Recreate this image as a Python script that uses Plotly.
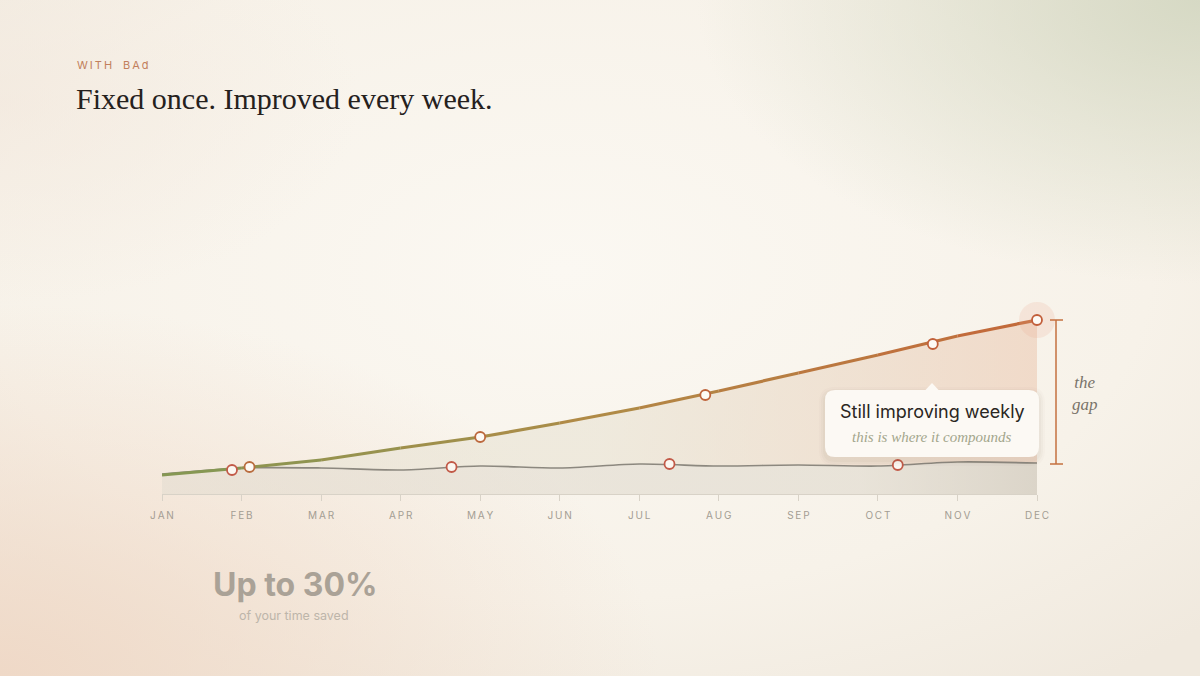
import base64
import plotly.graph_objects as go

# ---- data ----
months = ['JAN', 'FEB', 'MAR', 'APR', 'MAY', 'JUN', 'JUL', 'AUG', 'SEP', 'OCT', 'NOV', 'DEC']
month_idx = list(range(12))

# improving every week (upper, green -> orange)
improved = [9.5, 13, 17, 23, 28.5, 35.5, 43, 51.5, 60.5, 69.5, 79, 87]
improved_marker_x = [1.1, 4.0, 6.83, 9.69, 11]
improved_marker_y = [13.5, 28.5, 49.5, 75, 87]

# fixed once (lower, grey)
fixed = [10, 13, 13, 12, 14, 13, 15, 14, 14.5, 14, 16, 15.5]
fixed_marker_x = [0.88, 3.64, 6.38, 9.25]
fixed_marker_y = [12, 13.5, 15, 14.5]

# ---- geometry helpers: pixel -> paper (plot area is x 162..1037, y 94..494) ----
L, R, T, B = 162, 1037, 94, 494


def X(px):
    return (px - L) / (R - L)


def Y(py):
    return (B - py) / (B - T)


def rrect(x0, y0, x1, y1, r):
    """Rounded rectangle path (pixel inputs) in paper coords."""
    return (f"M {X(x0 + r)},{Y(y0)} L {X(x1 - r)},{Y(y0)} Q {X(x1)},{Y(y0)} {X(x1)},{Y(y0 + r)} "
            f"L {X(x1)},{Y(y1 - r)} Q {X(x1)},{Y(y1)} {X(x1 - r)},{Y(y1)} "
            f"L {X(x0 + r)},{Y(y1)} Q {X(x0)},{Y(y1)} {X(x0)},{Y(y1 - r)} "
            f"L {X(x0)},{Y(y0 + r)} Q {X(x0)},{Y(y0)} {X(x0 + r)},{Y(y0)} Z")


def mix(c1, c2, t):
    return tuple(round(a + (b - a) * t) for a, b in zip(c1, c2))


GREEN, MID, ORANGE = (130, 152, 84), (176, 138, 70), (196, 104, 58)


def line_colour(x):
    t = x / 11
    if t < 0.5:
        c = mix(GREEN, MID, t / 0.5)
    else:
        c = mix(MID, ORANGE, (t - 0.5) / 0.5)
    return f'rgb{c}'


def ring_colour(x):
    # marker rings on the improving line sit a bit warmer than the line itself
    return f'rgb{mix((184, 110, 62), (194, 94, 58), x / 11)}'


# ---- soft vignette background ----
svg = """<svg xmlns='http://www.w3.org/2000/svg' width='1200' height='676' viewBox='0 0 1200 676'>
<defs>
<radialGradient id='c' cx='0.47' cy='0.4' r='0.75'>
<stop offset='0' stop-color='#fbf8f2'/><stop offset='0.65' stop-color='#f7f2e9'/><stop offset='1' stop-color='#f0e9de'/></radialGradient>
<radialGradient id='g' cx='1' cy='0' r='0.42'>
<stop offset='0' stop-color='#d3d7c1' stop-opacity='0.9'/><stop offset='1' stop-color='#d3d7c1' stop-opacity='0'/></radialGradient>
<radialGradient id='p' cx='0' cy='1' r='0.55'>
<stop offset='0' stop-color='#efd6c3' stop-opacity='0.85'/><stop offset='1' stop-color='#efd6c3' stop-opacity='0'/></radialGradient>
<radialGradient id='w' cx='0' cy='0.15' r='0.3'>
<stop offset='0' stop-color='#f2e7dc' stop-opacity='0.6'/><stop offset='1' stop-color='#f2e7dc' stop-opacity='0'/></radialGradient>
</defs>
<rect width='1200' height='676' fill='url(#c)'/>
<rect width='1200' height='676' fill='url(#w)'/>
<rect width='1200' height='676' fill='url(#p)'/>
<rect width='1200' height='676' fill='url(#g)'/>
</svg>"""
bg_uri = 'data:image/svg+xml;base64,' + base64.b64encode(svg.encode()).decode()

fig = go.Figure()

# fill under the fixed line
fig.add_trace(go.Scatter(
    x=month_idx, y=fixed, mode='lines', line=dict(width=0, shape='spline', smoothing=0.8),
    fill='tozeroy',
    fillgradient=dict(type='horizontal', start=0, stop=11,
                      colorscale=[[0, 'rgba(226,220,208,0.55)'], [0.8, 'rgba(222,216,204,0.6)'],
                                  [1, 'rgba(210,203,190,0.75)']]),
    hoverinfo='skip', showlegend=False))

# fill between the two lines (the gap)
fig.add_trace(go.Scatter(
    x=month_idx, y=improved, mode='lines', line=dict(width=0),
    fill='tonexty',
    fillgradient=dict(type='horizontal', start=0, stop=11,
                      colorscale=[[0, 'rgba(230,227,212,0.55)'], [0.5, 'rgba(232,226,210,0.6)'],
                                  [1, 'rgba(238,210,190,0.75)']]),
    hoverinfo='skip', showlegend=False))

# fixed line
fig.add_trace(go.Scatter(
    x=month_idx, y=fixed, mode='lines',
    line=dict(color='#8c887f', width=1.7, shape='spline', smoothing=0.8),
    hoverinfo='skip', showlegend=False, cliponaxis=False))

# improving line, drawn month by month so the colour can shift
for i in range(len(months) - 1):
    fig.add_trace(go.Scatter(
        x=month_idx[i:i + 2], y=improved[i:i + 2], mode='lines',
        line=dict(color=line_colour(i + 0.5), width=3.2),
        hoverinfo='skip', showlegend=False, cliponaxis=False))

# glow on the last point
fig.add_trace(go.Scatter(
    x=improved_marker_x[-1:], y=improved_marker_y[-1:], mode='markers',
    marker=dict(size=36, color='rgba(236,172,145,0.2)', line=dict(width=0)),
    hoverinfo='skip', showlegend=False, cliponaxis=False))

fig.add_trace(go.Scatter(
    x=fixed_marker_x, y=fixed_marker_y, mode='markers',
    marker=dict(size=10, color='#fbf7f1', line=dict(color='#c25a48', width=1.8)),
    hoverinfo='skip', showlegend=False, cliponaxis=False))

fig.add_trace(go.Scatter(
    x=improved_marker_x, y=improved_marker_y, mode='markers',
    marker=dict(size=10, color='#fdfaf5',
                line=dict(color=[ring_colour(v) for v in improved_marker_x], width=1.8)),
    hoverinfo='skip', showlegend=False, cliponaxis=False))

shapes = []
# tooltip shadow + card + pointer
for k, a in enumerate([0.025, 0.03, 0.035]):
    d = 6 - k * 2
    shapes.append(dict(type='path', xref='paper', yref='paper', layer='above',
                       path=rrect(825 - d, 390 - d + 3, 1039 + d, 457 + d + 3, 10 + d),
                       fillcolor=f'rgba(110,90,70,{a})', line=dict(width=0)))
shapes.append(dict(type='path', xref='paper', yref='paper', layer='above',
                   path=rrect(825, 390, 1039, 457, 10),
                   fillcolor='#fcf9f4', line=dict(width=0)))
shapes.append(dict(type='path', xref='paper', yref='paper', layer='above',
                   path=f"M {X(925)},{Y(390.5)} L {X(932)},{Y(383)} L {X(939)},{Y(390.5)} Z",
                   fillcolor='#fcf9f4', line=dict(width=0)))
# "the gap" bracket
gap_col = '#c4703f'
shapes.append(dict(type='line', xref='paper', yref='paper', x0=X(1056), x1=X(1056),
                   y0=Y(320), y1=Y(464), line=dict(color=gap_col, width=1.5)))
for yy in (320, 464):
    shapes.append(dict(type='line', xref='paper', yref='paper', x0=X(1050), x1=X(1063),
                       y0=Y(yy), y1=Y(yy), line=dict(color=gap_col, width=1.5)))

annotations = [
    dict(text='\u2009'.join('WITH BAd').replace('\u2009 \u2009', '\u2003'),
         x=X(75), y=Y(65), xanchor='left', yanchor='middle',
         font=dict(family='Inter', size=11, color='#c27f5c')),
    dict(text='Fixed once. Improved every week.', x=X(74), y=Y(98), xanchor='left', yanchor='middle',
         font=dict(family='Liberation Serif', size=30, color='#25211d')),
    dict(text='the<br>gap', x=X(1085), y=Y(393), xanchor='center', yanchor='middle',
         font=dict(family='Liberation Serif', size=17, color='#7a746a', style='italic')),
    dict(text='Still improving weekly', x=X(932), y=Y(411), xanchor='center', yanchor='middle',
         font=dict(family='Inter', size=18, color='#2a2622')),
    dict(text='this is where it compounds', x=X(932), y=Y(437), xanchor='center', yanchor='middle',
         font=dict(family='Liberation Serif', size=15, color='#a3a68c', style='italic')),
    dict(text='<b>Up to 30%</b>', x=X(295), y=Y(584), xanchor='center', yanchor='middle',
         font=dict(family='Inter', size=32, color='#aaa297')),
    dict(text='of your time saved', x=X(294), y=Y(615), xanchor='center', yanchor='middle',
         font=dict(family='Inter', size=12.5, color='#bdb5aa')),
]
for a in annotations:
    a.update(xref='paper', yref='paper', showarrow=False)

fig.update_layout(
    width=1200, height=676,
    margin=dict(l=L, r=1200 - R, t=T, b=676 - B),
    paper_bgcolor='#f5f0e6', plot_bgcolor='rgba(0,0,0,0)',
    showlegend=False,
    shapes=shapes, annotations=annotations,
    images=[dict(source=bg_uri, xref='paper', yref='paper',
                 x=X(0), y=Y(0), sizex=1200 / (R - L), sizey=676 / (B - T),
                 xanchor='left', yanchor='top', sizing='stretch', layer='below')],
)
fig.update_xaxes(range=[0, 11], tickvals=month_idx,
                 ticktext=['\u2009'.join(m) for m in months],
                 showgrid=False, zeroline=False, showline=True, linecolor='#d8d2c7', linewidth=1,
                 ticks='outside', ticklen=6, tickcolor='#d8d2c7', ticklabelstandoff=6,
                 tickfont=dict(family='Inter', size=10, color='#a39d93'), fixedrange=True)
fig.update_yaxes(range=[0, 200], visible=False, fixedrange=True)

fig.write_html('out.html', config={'displayModeBar': False},
               post_script="document.body.style.margin='0';document.body.style.overflow='hidden';"
                           "document.body.style.background='#f5f0e6';")
